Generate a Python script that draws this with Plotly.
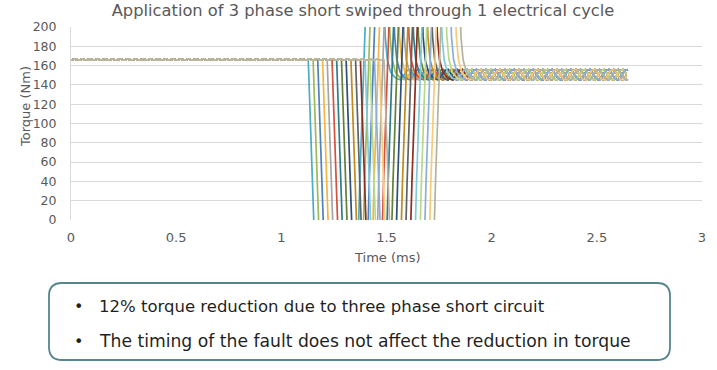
import plotly.graph_objects as go

# ---------------- data ----------------
fault_ms = [1.128, 1.151, 1.173, 1.196, 1.218, 1.241, 1.263, 1.286, 1.308,
            1.331, 1.353, 1.376, 1.398, 1.421, 1.443, 1.466, 1.488]
series_colors = ["#4BACC6", "#9BBB59", "#4F81BD", "#F6B444", "#A5A5A5", "#D4503F",
                 "#2E7D8C", "#647F36", "#2D4F7A", "#C08A1E", "#626262", "#8C2D1F",
                 "#7FCBDC", "#B9D98A", "#8DAEDB", "#F8CB7A", "#B5B39E"]
pre_fault_torque = [165.6, 166.2, 166.8, 166.2]      # small ripple before the fault
pre_step_ms = 0.009
transient_dt_ms = [0.0, 0.012, 0.045, 0.225, 0.245, 0.28, 0.355, 0.366, 0.376, 0.392, 0.415, 0.44]
transient_torque = [166, 90, -120, -120, 40, 260, 260, 190, 166, 153, 147, 145]
post_fault_torque = [145, 150, 155, 156, 151, 146]    # one ripple period after the fault
post_step_ms = 0.015
end_ms = 2.65
x_ticks = [0, 0.5, 1, 1.5, 2, 2.5, 3]
x_tick_labels = ["0", "0.5", "1", "1.5", "2", "2.5", "3"]
y_ticks = [0, 20, 40, 60, 80, 100, 120, 140, 160, 180, 200]

title_text = "Application of 3 phase short swiped through 1 electrical cycle"
bullets = ["12% torque reduction due to three phase short circuit",
           "The timing of the fault does not affect the reduction in torque"]

# ---------------- figure ----------------
W, H = 717, 370
L, T = 71, 27
R = W - 702
B = H - 220
PW, PH = W - L - R, H - T - B
FONT = "Century Gothic, DejaVu Sans, sans-serif"
GREY = "#595959"


def px(x):
    """page pixel x -> paper coordinate"""
    return (x - L) / PW


def py(y):
    """page pixel y -> paper coordinate"""
    return (H - B - y) / PH


fig = go.Figure()
for i, tf in enumerate(fault_ms):
    xs, ys = [], []
    k = 0
    t = 0.0
    while t < tf:
        xs.append(t)
        ys.append(pre_fault_torque[k % len(pre_fault_torque)])
        k += 1
        t = k * pre_step_ms
    for dt, v in zip(transient_dt_ms, transient_torque):
        xs.append(tf + dt)
        ys.append(v)
    t0 = tf + transient_dt_ms[-1]
    k = 1
    while t0 + k * post_step_ms <= end_ms + 1e-9:
        xs.append(t0 + k * post_step_ms)
        ys.append(post_fault_torque[k % len(post_fault_torque)])
        k += 1
    fig.add_trace(go.Scatter(x=xs, y=ys, mode="lines",
                             line=dict(color=series_colors[i], width=1.7),
                             showlegend=False, hoverinfo="skip"))

fig.update_layout(
    width=W, height=H,
    margin=dict(l=L, r=R, t=T, b=B),
    paper_bgcolor="white", plot_bgcolor="white",
    font=dict(family=FONT, color=GREY, size=13),
    title=dict(text=title_text, x=363 / W, xanchor="center", xref="container",
               y=1 - 10 / H, yanchor="middle", yref="container",
               font=dict(size=16.3, color=GREY, family=FONT)),
    xaxis=dict(range=[0, 3], tickvals=x_ticks, ticktext=x_tick_labels,
               showgrid=False, zeroline=False, showline=False, ticks="",
               ticklabelstandoff=8, tickfont=dict(size=13, color=GREY)),
    yaxis=dict(range=[0, 200], tickvals=y_ticks, showgrid=True, gridcolor="#D9D9D9",
               gridwidth=1, zeroline=False, showline=True, linecolor="#D9D9D9",
               ticks="", ticklabelstandoff=11, tickfont=dict(size=12.5, color=GREY)),
)

fig.add_annotation(text="Torque (Nm)", x=px(25), y=py(107), xref="paper", yref="paper",
                   textangle=-90, showarrow=False, font=dict(size=13, color=GREY),
                   xanchor="center", yanchor="middle")
fig.add_annotation(text="Time (ms)", x=px(387), y=py(257), xref="paper", yref="paper",
                   showarrow=False, font=dict(size=13, color=GREY),
                   xanchor="center", yanchor="middle")

# rounded text box
x0, x1, y0, y1, r = 49, 670, 283, 360, 13
pts = (f"M {px(x0 + r)},{py(y0)} L {px(x1 - r)},{py(y0)} "
       f"Q {px(x1)},{py(y0)} {px(x1)},{py(y0 + r)} L {px(x1)},{py(y1 - r)} "
       f"Q {px(x1)},{py(y1)} {px(x1 - r)},{py(y1)} L {px(x0 + r)},{py(y1)} "
       f"Q {px(x0)},{py(y1)} {px(x0)},{py(y1 - r)} L {px(x0)},{py(y0 + r)} "
       f"Q {px(x0)},{py(y0)} {px(x0 + r)},{py(y0)} Z")
fig.add_shape(type="path", path=pts, xref="paper", yref="paper",
              line=dict(color="#55858E", width=1.8), fillcolor="rgba(0,0,0,0)")

for txt, yy, fs in zip(bullets, [306, 341], [16.5, 17.2]):
    fig.add_annotation(text="•", x=px(78), y=py(yy), xref="paper", yref="paper",
                       showarrow=False, xanchor="center", yanchor="middle",
                       font=dict(size=16, color="#1F1F1F"))
    fig.add_annotation(text=txt, x=px(97), y=py(yy), xref="paper", yref="paper",
                       showarrow=False, xanchor="left", yanchor="middle",
                       font=dict(size=fs, color="#1F1F1F"))

fig.write_html("out.html",
               config={"displayModeBar": False, "staticPlot": True},
               post_script="document.body.style.margin='0';"
                           "document.body.style.overflow='hidden';")
